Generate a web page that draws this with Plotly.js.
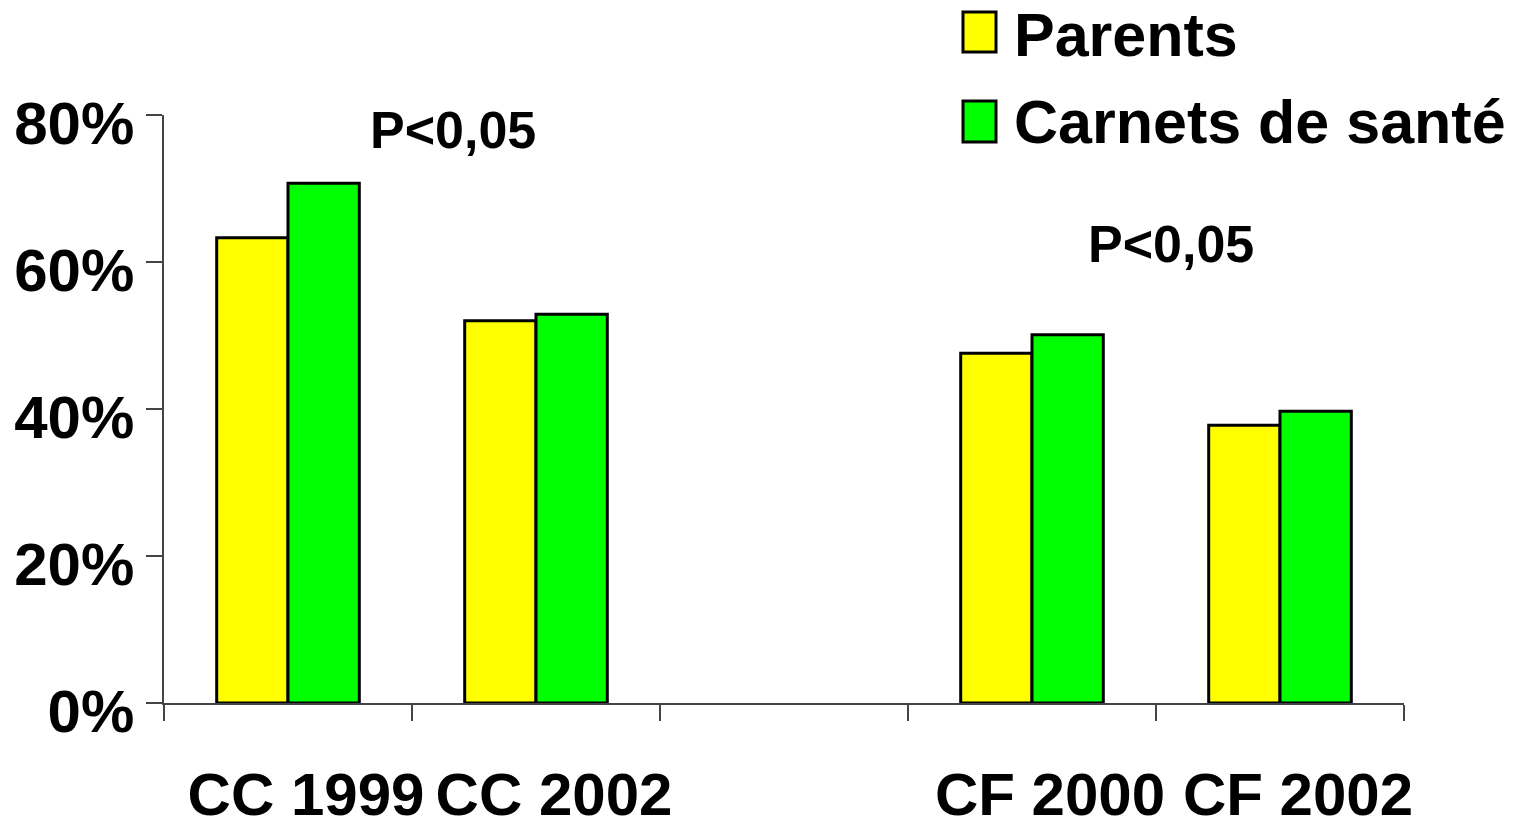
<!DOCTYPE html>
<html>
<head>
<meta charset="utf-8">
<script src="https://cdn.plot.ly/plotly-3.0.1.min.js"></script>
<style>html,body{margin:0;padding:0;background:#fff;}#chart{width:1517px;height:826px;}</style>
</head>
<body>
<div id="chart"></div>
<script>
const categories = ["CC 1999", "CC 2002", " ", "CF 2000", "CF 2002"];
const seriesNames = ["Parents", "Carnets de santé"];
const parents = [63.3, 52.0, null, 47.6, 37.8];
const carnets = [70.7, 52.9, null, 50.1, 39.7];
const yTickValues = [0, 20, 40, 60, 80];
const yTickLabels = ["0%", "20%", "40%", "60%", "80%"];
const pLabels = ["P<0,05", "P<0,05"];
const pPositions = [[0.665, 78.0], [3.56, 62.4]];

const FONT = "Liberation Sans, Arial, sans-serif";
const colors = ["#FFFF00", "#00FF00"];

const traces = [parents, carnets].map((vals, i) => ({
  type: "bar",
  name: seriesNames[i],
  x: categories,
  y: vals,
  marker: {color: colors[i], line: {color: "#000", width: 3}},
  showlegend: false,
  hoverinfo: "x+y+name"
}));

const W = 1517, H = 826, L = 164, R = 113, T = 115, B = 123;
const pw = W - L - R, ph = H - T - B;
const px = v => (v - L) / pw;
const py = v => (H - B - v) / ph;

const shapes = [];
const annotations = [];
const legendRows = [[12, 52, 35], [101, 142, 122]];
seriesNames.forEach((n, i) => {
  const r = legendRows[i];
  shapes.push({type: "rect", xref: "paper", yref: "paper",
    x0: px(963), x1: px(996), y0: py(r[1]), y1: py(r[0]),
    fillcolor: colors[i], line: {color: "#000", width: 3}});
  annotations.push({xref: "paper", yref: "paper", x: px(1012), y: py(r[2]),
    xanchor: "left", yanchor: "middle", showarrow: false, text: n,
    font: {family: FONT, size: 61, weight: 700, color: "#000"}});
});
pLabels.forEach((t, i) => {
  annotations.push({xref: "x", yref: "y", x: pPositions[i][0], y: pPositions[i][1],
    xanchor: "center", yanchor: "middle", showarrow: false, text: t,
    font: {family: FONT, size: 52, weight: 700, color: "#000"}});
});

const layout = {
  width: W, height: H,
  margin: {l: L, r: R, t: T, b: B, pad: 0},
  paper_bgcolor: "#fff", plot_bgcolor: "#fff",
  barmode: "group",
  bargap: 0.425,
  bargroupgap: 0,
  font: {family: FONT, color: "#000"},
  xaxis: {
    type: "category",
    categoryorder: "array", categoryarray: categories,
    range: [-0.5, 4.5],
    showgrid: false, zeroline: false,
    showline: true, linecolor: "#444", linewidth: 1.5,
    ticks: "outside", ticklen: 16, tickwidth: 1.5, tickcolor: "#444",
    tickson: "boundaries",
    ticklabelstandoff: 38, ticklabelshift: 18,
    tickfont: {family: FONT, size: 60, weight: 700, color: "#000"},
    fixedrange: true
  },
  yaxis: {
    range: [0, 80],
    tickvals: yTickValues, ticktext: yTickLabels,
    showgrid: false, zeroline: false,
    showline: true, linecolor: "#444", linewidth: 1.5,
    ticks: "outside", ticklen: 16, tickwidth: 1.5, tickcolor: "#444",
    ticklabelstandoff: 0, ticklabelshift: 8,
    tickfont: {family: FONT, size: 60, weight: 700, color: "#000"},
    fixedrange: true
  },
  shapes: shapes,
  annotations: annotations
};

Plotly.newPlot("chart", traces, layout, {displayModeBar: false, staticPlot: false});
</script>
</body>
</html>
